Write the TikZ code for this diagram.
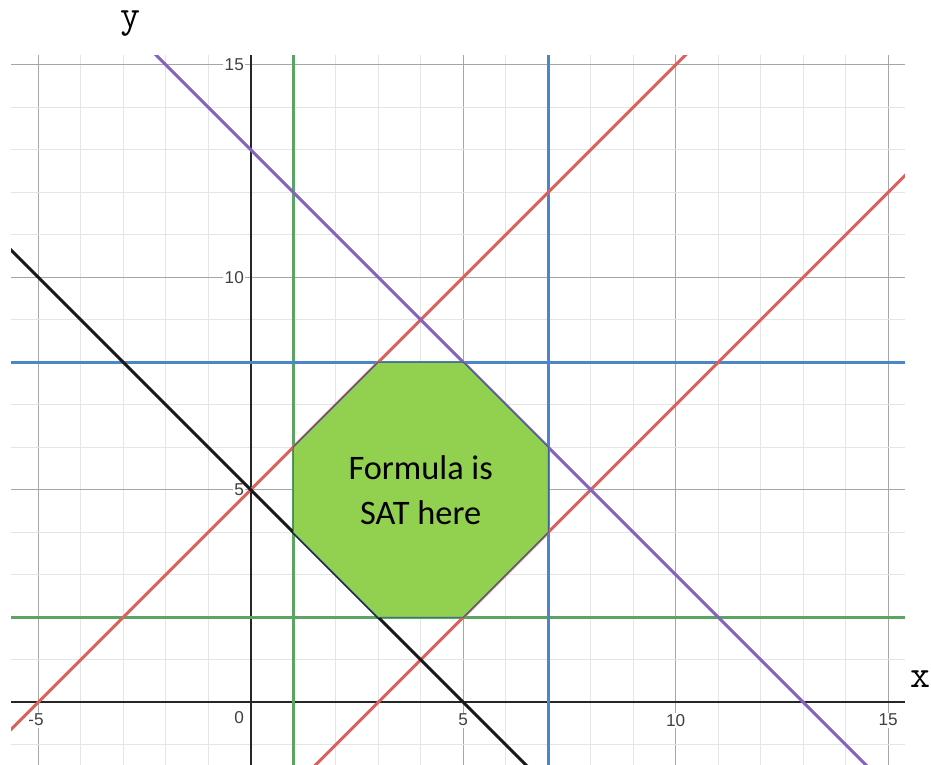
\documentclass[tikz,border=0pt]{standalone}
\usepackage{fontspec}
\setmainfont{Carlito}
\newfontfamily\tickfont{Liberation Sans}
\usepackage{tikz}
\usetikzlibrary{positioning, calc}

\definecolor{plotred}{HTML}{D9625F}
\definecolor{plotblue}{HTML}{4A86C8}
\definecolor{plotgreen}{HTML}{5AA562}
\definecolor{plotpurple}{HTML}{8462C0}
\definecolor{satgreen}{HTML}{92D050}
\definecolor{edgeblue}{HTML}{2F528F}

\begin{document}
\begin{tikzpicture}[
  x=1cm, y=1cm,
  minor/.style={draw=black!10, line width=0.6pt},
  major/.style={draw=black!35, line width=0.6pt},
  axis/.style={draw=black!85, line width=1.3pt},
  curve/.style={line width=2pt},
  tick/.style={font=\tickfont\fontsize{11.5}{13}\selectfont, text=black!75,
    fill=white, inner sep=1pt},
  axlabel/.style={font=\ttfamily\fontsize{26}{28}\selectfont, anchor=base,
    inner sep=0pt},
  region/.style={fill=satgreen, draw=edgeblue, line width=0.5pt},
]
  \useasboundingbox (-5.899,-1.475) rectangle (16.007,16.525);

  \begin{scope}
    \clip (-5.64,-1.475) rectangle (15.39,15.23);
    % grid
    \foreach \i in {-5,...,15} {
      \pgfmathtruncatemacro{\r}{mod(abs(\i),5)}
      \ifnum\r=0
        \draw[major] (\i,-2) -- (\i,16);
      \else
        \draw[minor] (\i,-2) -- (\i,16);
      \fi
    }
    \foreach \j in {-1,...,15} {
      \pgfmathtruncatemacro{\r}{mod(abs(\j),5)}
      \ifnum\r=0
        \draw[major] (-6,\j) -- (16,\j);
      \else
        \draw[minor] (-6,\j) -- (16,\j);
      \fi
    }
    \draw[axis] (-6,0) -- (16,0);
    \draw[axis] (0,-2) -- (0,16);
  \end{scope}

  % tick labels
  \node[tick] (xm5) at (-5.05,-0.42) {-5};
  \node[tick] (x0)  at (-0.27,-0.36) {0};
  \node[tick] (x5)  at (5,-0.42) {5};
  \node[tick] (x10) at (10,-0.42) {10};
  \node[tick] (x15) at (15,-0.42) {15};
  \node[tick, anchor=east] (y5)  at (-0.12,5) {5};
  \node[tick, anchor=east] (y10) at (-0.12,10) {10};
  \node[tick, anchor=east] (y15) at (-0.12,15) {15};

  \begin{scope}
    \clip (-5.64,-1.475) rectangle (15.39,15.23);
    % constraints
    \draw[curve, plotgreen] (1,-2) -- (1,16);
    \draw[curve, plotgreen] (-6,2) -- (16,2);
    \draw[curve, plotblue] (7,-2) -- (7,16);
    \draw[curve, plotblue] (-6,8) -- (16,8);
    \draw[curve, plotred] (-7,-2) -- (12,17);
    \draw[curve, plotred] (1,-2) -- (16,13);
    \draw[curve, plotpurple] (-3,16) -- (15.5,-2.5);
    \draw[curve, black!90] (-6,11) -- (8,-3);
  \end{scope}

  % feasible region
  \filldraw[region] (1,4) -- (1,6) -- (3,8) -- (5,8) -- (7,6) -- (7,4)
    -- (5,2) -- (3,2) -- cycle;
  \node[align=center, font=\fontsize{23}{30}\selectfont] (sat) at (4,5)
    {Formula is\\SAT here};

  % axis names
  \node[axlabel] (ylab) at (-2.84,15.88) {y};
  \node[axlabel] (xlab) at (15.75,0.34) {x};
\end{tikzpicture}
\end{document}
